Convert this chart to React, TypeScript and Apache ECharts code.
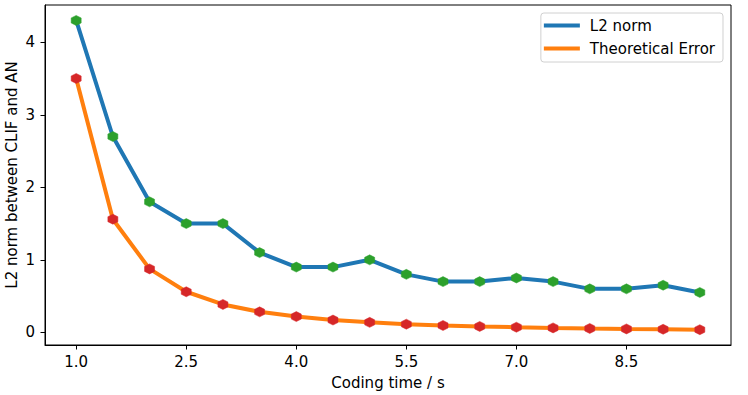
import React, { useEffect, useRef } from "react";
import * as echarts from "echarts";

const codingTime = [1.0, 1.5, 2.0, 2.5, 3.0, 3.5, 4.0, 4.5, 5.0, 5.5, 6.0, 6.5, 7.0, 7.5, 8.0, 8.5, 9.0, 9.5];
const l2Norm = [4.3, 2.7, 1.8, 1.5, 1.5, 1.1, 0.9, 0.9, 1.0, 0.8, 0.7, 0.7, 0.75, 0.7, 0.6, 0.6, 0.65, 0.55];
const theoreticalError = [3.5, 1.56, 0.875, 0.56, 0.385, 0.283, 0.218, 0.17, 0.138, 0.113, 0.095, 0.082, 0.071, 0.062, 0.054, 0.048, 0.043, 0.037];
const xTicks = [1.0, 2.5, 4.0, 5.5, 7.0, 8.5];
const yTicks = [0, 1, 2, 3, 4];

const HEX = "path://M0,-1 L0.866,-0.5 L0.866,0.5 L0,1 L-0.866,0.5 L-0.866,-0.5 Z";
const FONT = "DejaVu Sans";
const FS = 15;

export default function App() {
  const ref = useRef<HTMLDivElement>(null);
  useEffect(() => {
    if (!ref.current) return;
    const chart = echarts.init(ref.current, null, { renderer: "svg" });
    const axisCommon = {
      axisLine: { show: true, onZero: false, lineStyle: { color: "#000", width: 1 } },
      axisTick: { show: true, inside: false, length: 4.5, lineStyle: { color: "#000", width: 1 } },
      splitLine: { show: false },
      nameTextStyle: { fontFamily: FONT, fontSize: FS, color: "#000" },
    };
    chart.setOption({
      animation: false,
      backgroundColor: "#fff",
      grid: { left: 45, right: 17, top: 5, bottom: 49, show: true, borderColor: "#000", borderWidth: 1, backgroundColor: "transparent" },
      legend: {
        orient: "vertical",
        right: 25,
        top: 13,
        padding: [4, 8, 5, 3],
        itemGap: 6,
        itemWidth: 36,
        itemHeight: 4,
        icon: "rect",
        borderColor: "#d0d0d0",
        borderWidth: 1,
        borderRadius: 3,
        backgroundColor: "#fff",
        textStyle: { fontFamily: FONT, fontSize: FS, color: "#000", lineHeight: 17, padding: [0, 0, 0, 5] },
        data: [
          { name: "L2 norm", itemStyle: { color: "#1f77b4", borderWidth: 0, borderColor: "#1f77b4" } },
          { name: "Theoretical Error", itemStyle: { color: "#ff7f0e", borderWidth: 0, borderColor: "#ff7f0e" } },
        ],
      },
      graphic: [
        {
          type: "text",
          x: 12,
          y: 175,
          rotation: Math.PI / 2,
          style: {
            text: "L2 norm between CLIF and AN",
            fontFamily: FONT,
            fontSize: FS,
            fill: "#000",
            align: "center",
            verticalAlign: "middle",
          },
        },
      ],
      xAxis: {
        type: "value",
        min: 0.575,
        max: 9.925,
        name: "Coding time / s",
        nameLocation: "middle",
        nameGap: 30,
        ...axisCommon,
        axisTick: { ...axisCommon.axisTick, customValues: xTicks },
        axisLabel: {
          customValues: xTicks,
          formatter: (v: number) => v.toFixed(1),
          fontFamily: FONT,
          fontSize: FS,
          color: "#000",
          margin: 9,
        },
      },
      yAxis: {
        type: "value",
        min: -0.174,
        max: 4.513,
        ...axisCommon,
        axisTick: { ...axisCommon.axisTick, customValues: yTicks },
        axisLabel: {
          customValues: yTicks,
          formatter: (v: number) => String(v),
          fontFamily: FONT,
          fontSize: FS,
          color: "#000",
          margin: 10,
        },
      },
      series: [
        {
          name: "L2 norm",
          type: "line",
          data: codingTime.map((x, i) => [x, l2Norm[i]]),
          color: "#1f77b4",
          lineStyle: { color: "#1f77b4", width: 4 },
          symbol: HEX,
          symbolSize: 10,
          showAllSymbol: true,
          itemStyle: { color: "#2ca02c", borderColor: "#2ca02c", borderWidth: 0.5 },
          z: 2,
        },
        {
          name: "Theoretical Error",
          type: "line",
          data: codingTime.map((x, i) => [x, theoreticalError[i]]),
          color: "#ff7f0e",
          lineStyle: { color: "#ff7f0e", width: 4 },
          symbol: HEX,
          symbolSize: 10,
          showAllSymbol: true,
          itemStyle: { color: "#d62728", borderColor: "#d62728", borderWidth: 0.5 },
          z: 3,
        },
      ],
    });
    return () => chart.dispose();
  }, []);
  return <div ref={ref} style={{ width: 748, height: 395, position: "absolute", left: 0, top: 0 }} />;
}
